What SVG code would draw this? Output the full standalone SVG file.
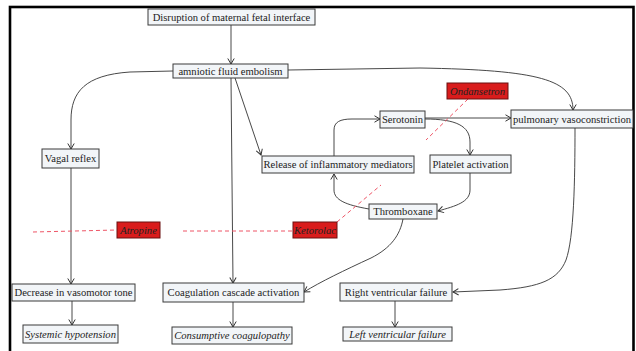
<svg xmlns="http://www.w3.org/2000/svg" width="636" height="351" viewBox="0 0 636 351">
<defs>
<marker id="arr" markerWidth="8" markerHeight="8" refX="6" refY="4" orient="auto" markerUnits="userSpaceOnUse">
<path d="M0.5,0.8 L6,4 L0.5,7.2" fill="none" stroke="#333" stroke-width="1"/>
</marker>
</defs>
<style>
.box{fill:#f2f5f8;stroke:#3a3a3a;stroke-width:1}
.red{fill:#d91c1c;stroke:#6a1010;stroke-width:1}
.t{font-family:"Liberation Serif","Times New Roman",serif;font-size:10.6px;fill:#222;text-anchor:middle}
.i{font-style:italic}
.c{fill:none;stroke:#333;stroke-width:0.9;marker-end:url(#arr)}
.d{fill:none;stroke:#ee5566;stroke-width:1;stroke-dasharray:4,3}
</style>
<rect width="636" height="351" fill="#fff"/>
<rect x="10" y="7" width="623.5" height="400" fill="none" stroke="#000" stroke-width="2.6"/>

<g id="connectors">
<path class="c" d="M231,25 L231,64"/>
<path class="c" d="M173,71 L130,72 C85,75 71,92 71,120 L71,149"/>
<path class="c" d="M235,78 L261,155"/>
<path class="c" d="M231,78 L233,283"/>
<path class="c" d="M288,70 L420,68 C540,70 573,80 573,110"/>
<path class="c" d="M334,156 L334,130 C334,122 340,119 352,119 L380,119"/>
<path class="c" d="M425,118 L511,118"/>
<path class="c" d="M425,119 C456,119 470,126 470,142 L470,155"/>
<path class="c" d="M470,173 L470,190 C470,202 456,206 438,211"/>
<path class="c" d="M369,209 C346,205 334,200 334,190 L334,174"/>
<path class="c" d="M403,219 C400,235 391,248 371,258 C345,270 320,282 304,292"/>
<path class="c" d="M575,128 C575,180 574,238 566,260 C558,280 540,287 500,290 L453,292"/>
<path class="c" d="M71,168 L71,284"/>
<path class="c" d="M72,301 L72,325"/>
<path class="c" d="M233,302 L233,327"/>
<path class="c" d="M395,301 L395,327"/>
<path class="d" d="M33,232 L117,230"/>
<path class="d" d="M183,231 L293,231"/>
<path class="d" d="M337,222 L381,185"/>
<path class="d" d="M468,99 L426,140"/>
</g>

<g id="n-disruption"><rect class="box" x="148" y="9" width="167" height="16"/><text class="t" x="231.5" y="21">Disruption of maternal fetal interface</text></g>
<g id="n-afe"><rect class="box" x="173" y="64" width="115" height="14"/><text class="t" x="230.5" y="75">amniotic fluid embolism</text></g>
<g id="n-vagal"><rect class="box" x="42" y="149" width="57" height="19"/><text class="t" x="70.5" y="162">Vagal reflex</text></g>
<g id="n-release"><rect class="box" x="262" y="156" width="152" height="17"/><text class="t" x="338" y="168">Release of inflammatory mediators</text></g>
<g id="n-serotonin"><rect class="box" x="380" y="111" width="45" height="17"/><text class="t" x="402.5" y="123">Serotonin</text></g>
<g id="n-platelet"><rect class="box" x="430" y="155" width="81" height="18"/><text class="t" x="470.5" y="167.5">Platelet activation</text></g>
<g id="n-thromboxane"><rect class="box" x="369" y="204" width="68" height="15"/><text class="t" x="403" y="215">Thromboxane</text></g>
<g id="n-pulmonary"><rect class="box" x="511" y="110" width="122" height="18"/><text class="t" x="572" y="122.5">pulmonary vasoconstriction</text></g>
<g id="n-ondansetron"><rect class="red" x="447" y="83" width="61" height="16"/><text class="t i" x="477.5" y="95">Ondansetron</text></g>
<g id="n-atropine"><rect class="red" x="117" y="222" width="43" height="16"/><text class="t i" x="138.5" y="234">Atropine</text></g>
<g id="n-ketorolac"><rect class="red" x="293" y="222" width="44" height="16"/><text class="t i" x="315" y="234">Ketorolac</text></g>
<g id="n-decrease"><rect class="box" x="12" y="284" width="123" height="17"/><text class="t" x="73.5" y="296">Decrease in vasomotor tone</text></g>
<g id="n-systemic"><rect class="box" x="23" y="325" width="95" height="18"/><text class="t i" x="70.5" y="337.5">Systemic hypotension</text></g>
<g id="n-coag"><rect class="box" x="163" y="283" width="141" height="19"/><text class="t" x="233.5" y="296">Coagulation cascade activation</text></g>
<g id="n-consumptive"><rect class="box" x="172" y="327" width="120" height="17"/><text class="t i" x="232" y="339">Consumptive coagulopathy</text></g>
<g id="n-rvf"><rect class="box" x="340" y="283" width="112" height="18"/><text class="t" x="396" y="295.5">Right ventricular failure</text></g>
<g id="n-lvf"><rect class="box" x="343" y="327" width="109" height="14"/><text class="t i" x="397.5" y="338">Left ventricular failure</text></g>
</svg>
